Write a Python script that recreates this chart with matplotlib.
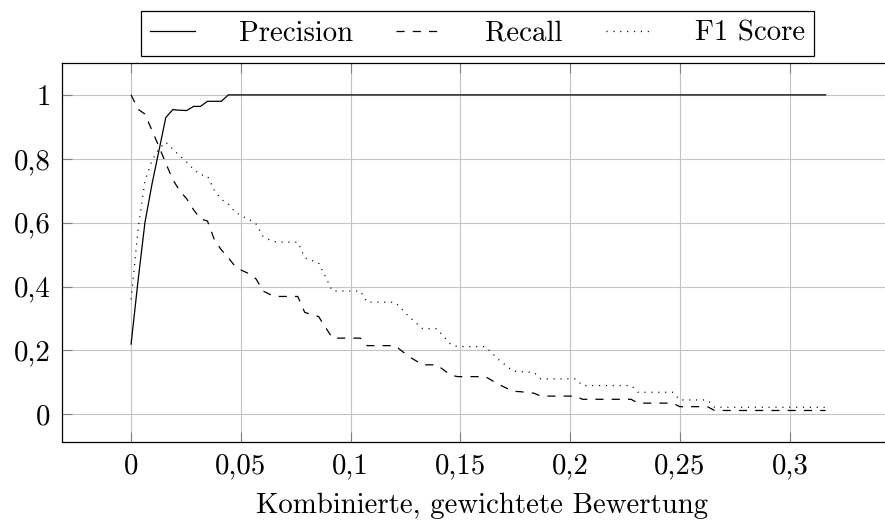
import matplotlib
matplotlib.use("Agg")
import matplotlib.pyplot as plt
from matplotlib.lines import Line2D

plt.rcParams['font.family'] = ['cmr10', 'DejaVu Serif']
plt.rcParams['mathtext.fontset'] = 'cm'
plt.rcParams['axes.unicode_minus'] = False
plt.rcParams['axes.formatter.use_mathtext'] = True

# ---- data ----
threshold = [0.0, 0.0032, 0.0063, 0.0095, 0.0127, 0.0158, 0.0190, 0.0221, 0.0253, 0.0285,
             0.0316, 0.0348, 0.0380, 0.0411, 0.0443, 0.0474, 0.0506, 0.0538, 0.0569, 0.0601,
             0.0633, 0.0664, 0.0759, 0.0791, 0.0854, 0.0917, 0.1044, 0.1075, 0.1202, 0.1265,
             0.1328, 0.1392, 0.1455, 0.1487, 0.1613, 0.1676, 0.1740, 0.1771, 0.1835, 0.1866,
             0.2024, 0.2056, 0.2277, 0.2309, 0.2467, 0.2499, 0.2625, 0.2657, 0.3163]

precision = [0.22, 0.42, 0.60, 0.72, 0.826, 0.929, 0.954, 0.952, 0.951, 0.964,
             0.964, 0.98, 0.98, 0.98, 1.0, 1.0, 1.0, 1.0, 1.0, 1.0,
             1.0, 1.0, 1.0, 1.0, 1.0, 1.0, 1.0, 1.0, 1.0, 1.0,
             1.0, 1.0, 1.0, 1.0, 1.0, 1.0, 1.0, 1.0, 1.0, 1.0,
             1.0, 1.0, 1.0, 1.0, 1.0, 1.0, 1.0, 1.0, 1.0]

recall = [1.0, 0.955, 0.94, 0.889, 0.838, 0.786, 0.735, 0.70, 0.675, 0.64,
          0.612, 0.605, 0.545, 0.515, 0.49, 0.463, 0.45, 0.44, 0.424, 0.386,
          0.375, 0.369, 0.369, 0.319, 0.306, 0.2385, 0.2385, 0.215, 0.215, 0.181,
          0.155, 0.155, 0.123, 0.118, 0.118, 0.093, 0.072, 0.071, 0.066, 0.057,
          0.057, 0.047, 0.047, 0.035, 0.035, 0.024, 0.024, 0.012, 0.012]

f1_score = [0.36, 0.58, 0.73, 0.795, 0.832, 0.852, 0.83, 0.81, 0.79, 0.767,
            0.75, 0.746, 0.70, 0.673, 0.658, 0.633, 0.62, 0.61, 0.596, 0.557,
            0.545, 0.539, 0.539, 0.49, 0.474, 0.386, 0.386, 0.351, 0.351, 0.306,
            0.268, 0.268, 0.219, 0.212, 0.212, 0.170, 0.135, 0.134, 0.131, 0.111,
            0.111, 0.090, 0.090, 0.069, 0.069, 0.045, 0.045, 0.022, 0.022]

series_labels = ["Precision", "Recall", "F1 Score"]
x_ticks = [0, 0.05, 0.1, 0.15, 0.2, 0.25, 0.3]
x_tick_labels = ["0", "0,05", "0,1", "0,15", "0,2", "0,25", "0,3"]
y_ticks = [0, 0.2, 0.4, 0.6, 0.8, 1.0]
y_tick_labels = ["0", "0,2", "0,4", "0,6", "0,8", "1"]
x_label = "Kombinierte, gewichtete Bewertung"

# ---- figure ----
W, H = 885, 523
fig = plt.figure(figsize=(W / 100, H / 100), dpi=100)
left_px, right_px, top_px, bottom_px = 61.7, 895.0, 63.3, 442.3
ax = fig.add_axes([left_px / W, 1 - bottom_px / H,
                   (right_px - left_px) / W, (bottom_px - top_px) / H])

FS = 20.8
lw = 0.9
dashed = (0, (6.5, 6.5))
dotted = (0, (0.9, 4.6))

ax.plot(threshold, precision, color='black', lw=lw, solid_joinstyle='miter')
ax.plot(threshold, recall, color='black', lw=lw, linestyle=dashed)
ax.plot(threshold, f1_score, color='black', lw=lw, linestyle=dotted)

ax.set_xlim(-0.0316, 0.3479)
ax.set_ylim(-0.0876, 1.0989)

ax.set_xticks(x_ticks)
ax.set_xticklabels(x_tick_labels)
ax.set_yticks(y_ticks)
ax.set_yticklabels(y_tick_labels)

ax.grid(True, color='#c4c4c4', lw=0.8)
ax.set_axisbelow(True)
ax.tick_params(direction='in', length=7, width=0.8, color='#7f7f7f',
               top=True, right=False, labelsize=FS, pad=8)
for sp in ax.spines.values():
    sp.set_linewidth(0.9)
    sp.set_color('black')
ax.spines['right'].set_visible(False)

ax.set_xlabel(x_label, fontsize=FS)
ax.xaxis.set_label_coords(0.505, -0.132)

handles = [Line2D([], [], color='black', lw=lw),
           Line2D([], [], color='black', lw=lw, linestyle=dashed),
           Line2D([], [], color='black', lw=lw, linestyle=dotted)]
leg = fig.legend(handles, series_labels, ncol=3, loc='center',
                 bbox_to_anchor=(477.7 / W, 1 - 33.5 / H),
                 frameon=True, fancybox=False, edgecolor='black', framealpha=1,
                 fontsize=FS, handlelength=1.56, handletextpad=1.52,
                 columnspacing=1.49, borderpad=0.32)
leg.get_frame().set_linewidth(0.9)

fig.savefig('out.png', dpi=100)
